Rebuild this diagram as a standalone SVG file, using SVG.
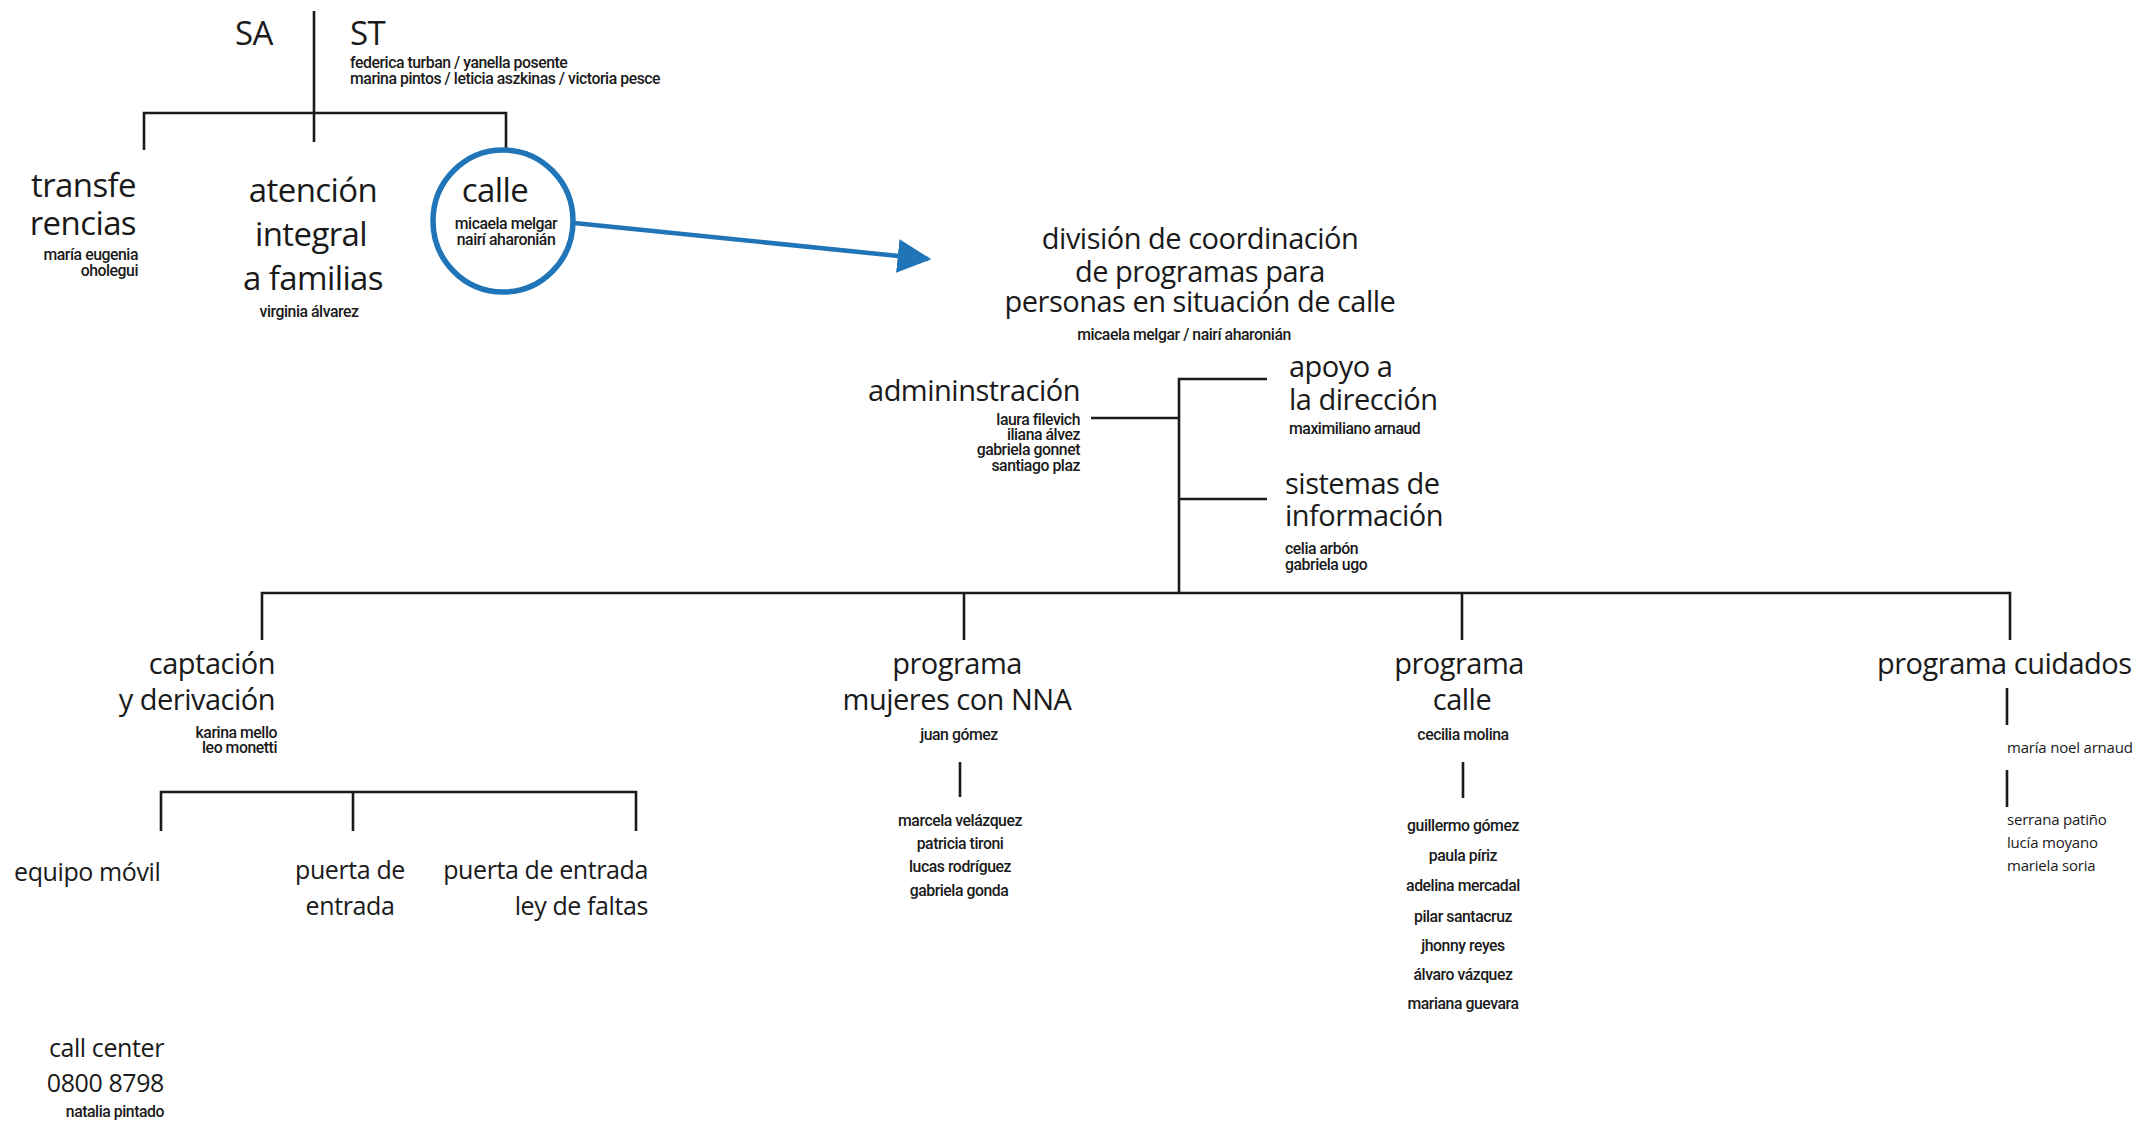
<svg xmlns="http://www.w3.org/2000/svg" width="2144" height="1124" viewBox="0 0 2144 1124">
<style>
.bg{fill:#ffffff}
.ln{stroke:#1a1a1a;stroke-width:2.6;fill:none}
.big{font-family:"Open Sans","Noto Sans",sans-serif;font-size:33px;fill:#1a1a1a;letter-spacing:-0.6px}
.mid{font-family:"Open Sans","Noto Sans",sans-serif;font-size:29px;fill:#1a1a1a;letter-spacing:-0.5px}
.sub{font-family:"Open Sans","Noto Sans",sans-serif;font-size:25px;fill:#1a1a1a;letter-spacing:-0.4px}
.nm{font-family:Roboto,"Liberation Sans",sans-serif;font-size:15.8px;font-weight:500;fill:#1a1a1a;letter-spacing:-0.45px}
.nr{font-family:"Open Sans","Noto Sans",sans-serif;font-size:15px;fill:#1a1a1a;letter-spacing:-0.2px}
.c{text-anchor:middle}
.e{text-anchor:end}
.blue{stroke:#1f75b8;fill:none}
</style>
<defs>
<marker id="ah" viewBox="0 0 10 10" refX="9" refY="5" markerWidth="7.5" markerHeight="7.5" markerUnits="strokeWidth" orient="auto">
<path d="M0,0 L10,5 L0,10 z" fill="#1f75b8"/>
</marker>
</defs>
<rect class="bg" x="0" y="0" width="2144" height="1124"/>

<g id="connectors">
<path class="ln" d="M314,11 V142"/>
<path class="ln" d="M144,150 V113 H506 V151"/>
<path class="blue" stroke-width="4.5" d="M574,223 L928,259" marker-end="url(#ah)"/>
<path class="ln" d="M1091,418 H1179"/>
<path class="ln" d="M1267,379 H1179 V593"/>
<path class="ln" d="M1179,499 H1267"/>
<path class="ln" d="M262,640 V593 H2010 V640"/>
<path class="ln" d="M964,593 V640"/>
<path class="ln" d="M1462,593 V640"/>
<path class="ln" d="M161,831 V792 H636 V831"/>
<path class="ln" d="M353,792 V831"/>
<path class="ln" d="M960,762 V797"/>
<path class="ln" d="M1463,762 V798"/>
<path class="ln" d="M2007,688 V725"/>
<path class="ln" d="M2007,770 V807"/>
</g>

<g id="sa">
<text class="big" x="254" y="45" text-anchor="middle">SA</text>
</g>
<g id="st">
<text class="big" x="350" y="45">ST</text>
<text class="nm" x="350" y="68">federica turban / yanella posente</text>
<text class="nm" x="350" y="84">marina pintos / leticia aszkinas / victoria pesce</text>
</g>

<g id="transferencias">
<text class="big e" x="136" y="197">transfe</text>
<text class="big e" x="136" y="235">rencias</text>
<text class="nm e" x="138" y="260">maría eugenia</text>
<text class="nm e" x="138" y="276">oholegui</text>
</g>

<g id="atencion">
<text class="big c" x="313" y="202">atención</text>
<text class="big c" x="311" y="246">integral</text>
<text class="big c" x="313" y="290">a familias</text>
<text class="nm c" x="309" y="317">virginia álvarez</text>
</g>

<g id="calle-circle">
<ellipse class="blue" stroke-width="5.5" cx="503" cy="221" rx="70" ry="71"/>
<text class="big c" x="495" y="202">calle</text>
<text class="nm c" x="506" y="229">micaela melgar</text>
<text class="nm c" x="506" y="245">nairí aharonián</text>
</g>

<g id="division">
<text class="mid c" x="1200" y="249">división de coordinación</text>
<text class="mid c" x="1200" y="282">de programas para</text>
<text class="mid c" x="1200" y="312">personas en situación de calle</text>
<text class="nm c" x="1184" y="340">micaela melgar / nairí aharonián</text>
</g>

<g id="administracion">
<text class="mid e" x="1080" y="401">admininstración</text>
<text class="nm e" x="1080" y="425">laura filevich</text>
<text class="nm e" x="1080" y="440">iliana álvez</text>
<text class="nm e" x="1080" y="455">gabriela gonnet</text>
<text class="nm e" x="1080" y="471">santiago plaz</text>
</g>

<g id="apoyo">
<text class="mid" x="1289" y="377">apoyo a</text>
<text class="mid" x="1289" y="410">la dirección</text>
<text class="nm" x="1289" y="434">maximiliano arnaud</text>
</g>

<g id="sistemas">
<text class="mid" x="1285" y="494">sistemas de</text>
<text class="mid" x="1285" y="526">información</text>
<text class="nm" x="1285" y="554">celia arbón</text>
<text class="nm" x="1285" y="570">gabriela ugo</text>
</g>

<g id="captacion">
<text class="mid e" x="275" y="674">captación</text>
<text class="mid e" x="275" y="710">y derivación</text>
<text class="nm e" x="277" y="738">karina mello</text>
<text class="nm e" x="277" y="753">leo monetti</text>
</g>

<g id="equipo-movil">
<text class="sub" x="14" y="881">equipo móvil</text>
</g>
<g id="puerta-entrada">
<text class="sub c" x="350" y="879">puerta de</text>
<text class="sub c" x="350" y="915">entrada</text>
</g>
<g id="puerta-faltas">
<text class="sub e" x="648" y="879">puerta de entrada</text>
<text class="sub e" x="648" y="915">ley de faltas</text>
</g>

<g id="call-center">
<text class="sub e" x="164" y="1057">call center</text>
<text class="sub e" x="164" y="1092">0800 8798</text>
<text class="nm e" x="164" y="1117">natalia pintado</text>
</g>

<g id="mujeres">
<text class="mid c" x="957" y="674">programa</text>
<text class="mid c" x="957" y="710">mujeres con NNA</text>
<text class="nm c" x="959" y="740">juan gómez</text>
<text class="nm c" x="960" y="826">marcela velázquez</text>
<text class="nm c" x="960" y="849">patricia tironi</text>
<text class="nm c" x="960" y="872">lucas rodríguez</text>
<text class="nm c" x="959" y="896">gabriela gonda</text>
</g>

<g id="programa-calle">
<text class="mid c" x="1459" y="674">programa</text>
<text class="mid c" x="1462" y="710">calle</text>
<text class="nm c" x="1463" y="740">cecilia molina</text>
<text class="nm c" x="1463" y="831">guillermo gómez</text>
<text class="nm c" x="1463" y="861">paula píriz</text>
<text class="nm c" x="1463" y="891">adelina mercadal</text>
<text class="nm c" x="1463" y="922">pilar santacruz</text>
<text class="nm c" x="1463" y="951">jhonny reyes</text>
<text class="nm c" x="1463" y="980">álvaro vázquez</text>
<text class="nm c" x="1463" y="1009">mariana guevara</text>
</g>

<g id="cuidados">
<text class="mid" x="1877" y="674">programa cuidados</text>
<text class="nr" x="2007" y="753">maría noel arnaud</text>
<text class="nr" x="2007" y="825">serrana patiño</text>
<text class="nr" x="2007" y="848">lucía moyano</text>
<text class="nr" x="2007" y="871">mariela soria</text>
</g>
</svg>
